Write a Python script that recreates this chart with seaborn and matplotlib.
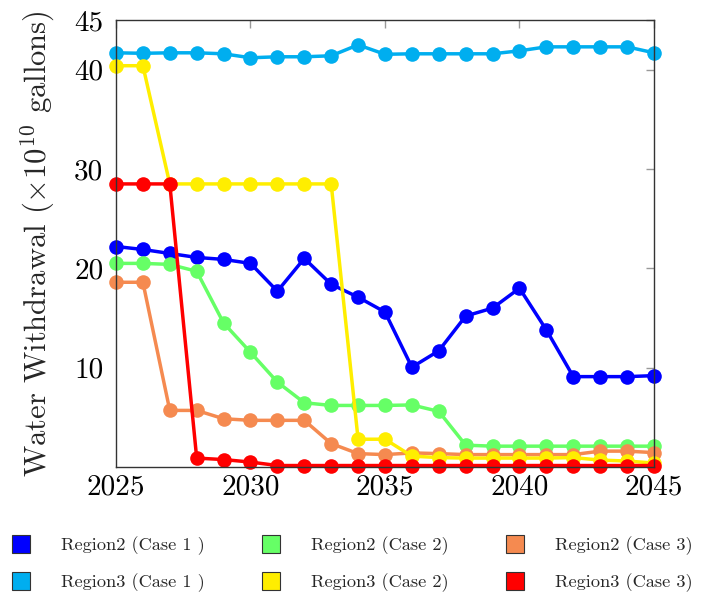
import matplotlib
matplotlib.use("Agg")
import matplotlib.pyplot as plt
from matplotlib.lines import Line2D
import numpy as np
import pandas as pd
import seaborn as sns

years = list(range(2025, 2046))

region2_case1 = [22.2, 21.9, 21.5, 21.1, 20.9, 20.5, 17.7, 21.0, 18.4, 17.1, 15.6,
                 10.05, 11.7, 15.2, 16.0, 18.0, 13.8, 9.1, 9.1, 9.1, 9.2]
region2_case2 = [20.5, 20.5, 20.4, 19.7, 14.5, 11.55, 8.55, 6.47, 6.2, 6.2, 6.2,
                 6.25, 5.6, 2.2, 2.1, 2.1, 2.1, 2.1, 2.1, 2.1, 2.1]
region2_case3 = [18.6, 18.6, 5.7, 5.7, 4.86, 4.7, 4.7, 4.7, 2.36, 1.35, 1.25,
                 1.42, 1.35, 1.25, 1.25, 1.25, 1.25, 1.25, 1.6, 1.6, 1.45]
region3_case1 = [41.7, 41.65, 41.7, 41.7, 41.6, 41.2, 41.3, 41.3, 41.4, 42.5, 41.55,
                 41.6, 41.6, 41.6, 41.6, 41.9, 42.3, 42.3, 42.3, 42.3, 41.7]
region3_case2 = [40.4, 40.4, 28.5, 28.5, 28.5, 28.5, 28.5, 28.5, 28.5, 2.8, 2.8,
                 1.1, 0.95, 0.9, 0.9, 0.9, 0.9, 0.95, 0.7, 0.6, 0.4]
region3_case3 = [28.5, 28.5, 28.5, 0.9, 0.75, 0.5, 0.15, 0.15, 0.15, 0.15, 0.15,
                 0.15, 0.15, 0.15, 0.15, 0.15, 0.15, 0.15, 0.15, 0.15, 0.15]

series_names = ["Region2 (Case 1 )", "Region2 (Case 2)", "Region2 (Case 3)",
                "Region3 (Case 1 )", "Region3 (Case 2)", "Region3 (Case 3)"]
series_values = [region2_case1, region2_case2, region2_case3,
                 region3_case1, region3_case2, region3_case3]
colors = ["#0000FF", "#66FF66", "#F58A50", "#00AEEF", "#FFEE00", "#FF0000"]

xticks = [2025, 2030, 2035, 2040, 2045]
yticks = [10, 20, 30, 40, 45]

df = pd.DataFrame({
    "year": np.tile(years, len(series_names)),
    "value": np.concatenate(series_values),
    "series": np.repeat(series_names, len(years)),
})

sns.set_style("white")
plt.rcParams["font.family"] = ["cmr10"]
plt.rcParams["mathtext.fontset"] = "cm"
plt.rcParams["axes.formatter.use_mathtext"] = True

fig = plt.figure(figsize=(7.09, 5.96), dpi=100)
ax = fig.add_axes([0.1636, 0.2164, 0.7588, 0.75])

sns.lineplot(data=df, x="year", y="value", hue="series", hue_order=series_names,
             palette=colors, marker="o", markersize=10.5, markeredgewidth=0,
             linewidth=2.5, legend=False, ax=ax, estimator=None)
for ln in ax.lines:
    ln.set_clip_on(False)
    ln.set_solid_joinstyle("round")

ax.set_xlim(2025, 2045)
ax.set_ylim(0, 45)
ax.set_xticks(xticks)
ax.set_xticklabels([str(t) for t in xticks])
ax.set_yticks(yticks)
ax.set_yticklabels([str(t) for t in yticks])
ax.tick_params(axis="both", direction="in", length=6, width=1, color="#999999",
               labelsize=21, top=True, right=True, labelcolor="black")
ax.tick_params(axis="x", pad=5)
ax.tick_params(axis="y", pad=9)
for s in ax.spines.values():
    s.set_color("#333333")
    s.set_linewidth(1.0)
    s.set_visible(True)
ax.set_xlabel("")
ax.set_ylabel(r"Water Withdrawal ($\times 10^{10}$ gallons)", fontsize=22)
ax.yaxis.set_label_coords(-0.1095, 0.5)

handles = [Line2D([], [], linestyle="none", marker="s", markersize=13.5,
                  markerfacecolor=c, markeredgecolor="#333333", markeredgewidth=0.8)
           for c in colors]
order = [0, 3, 1, 4, 2, 5]
fig.legend([handles[i] for i in order], [series_names[i] for i in order],
           loc="upper left", bbox_to_anchor=(0.0134, 0.1005), ncol=3, frameon=False,
           fontsize=13.2, handlelength=1.2, handletextpad=1.61, columnspacing=3.0,
           labelspacing=1.0, borderaxespad=0.0, borderpad=0.0)

fig.savefig("out.png", dpi=100)
